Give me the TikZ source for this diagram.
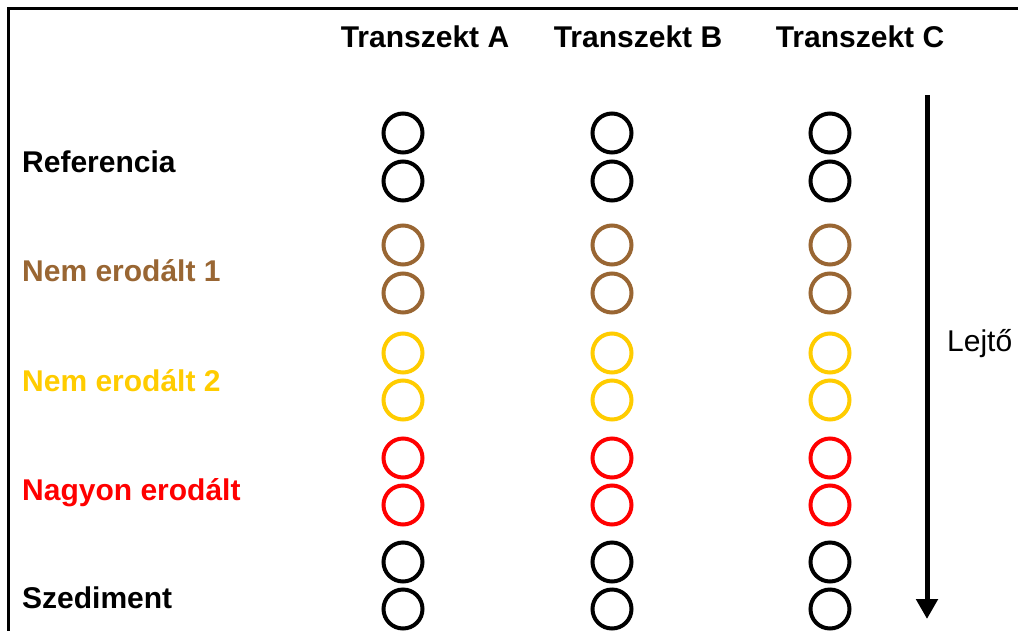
\documentclass[tikz,border=0pt]{standalone}
\usepackage{fontspec}
\setmainfont{Liberation Sans}
\usetikzlibrary{arrows.meta}
\definecolor{cbrown}{HTML}{996633}
\definecolor{cyellow}{HTML}{FFCC00}
\definecolor{cred}{HTML}{FF0000}
\begin{document}
\begin{tikzpicture}[x=1pt,y=-1pt,
  ring/.style={circle,draw,line width=4pt,minimum size=39pt,inner sep=0pt},
  lbl/.style={anchor=base west,inner sep=0pt,font=\fontsize{30}{36}\selectfont\bfseries},
  hdr/.style={anchor=base,inner sep=0pt,font=\fontsize{30}{36}\selectfont\bfseries}]
\useasboundingbox (0,0) rectangle (1018,630);
\clip (0,0) rectangle (1018,630);
\draw[line width=3pt] (8,640) -- (8,8.5) -- (1030,8.5);
\node[hdr] (hA) at (425,47) {Transzekt A};
\node[hdr] (hB) at (638,47) {Transzekt B};
\node[hdr] (hC) at (860,47) {Transzekt C};
\node[lbl] (l1) at (22,172) {Referencia};
\node[lbl,text=cbrown] (l2) at (22,281) {Nem erodált 1};
\node[lbl,text=cyellow] (l3) at (22,391) {Nem erodált 2};
\node[lbl,text=cred] (l4) at (22,500) {Nagyon erodált};
\node[lbl] (l5) at (22,608) {Szediment};
\foreach \c/\x in {A/403,B/612,C/830}{
  \foreach \r/\ya/\yb/\col in {1/133/181/black,2/245/293/cbrown,3/353/400/cyellow,4/458/505/cred,5/562/609/black}{
    \node[ring,draw=\col] (c\c\r a) at (\x,\ya) {};
    \node[ring,draw=\col] (c\c\r b) at (\x,\yb) {};
  }
}
\coordinate (aTop) at (927,95);
\coordinate (aBot) at (927,619);
\draw[line width=5pt,-{Triangle[width=21pt,length=20pt]}] (aTop) -- (aBot);
\node[anchor=base west,inner sep=0pt,font=\fontsize{30}{36}\selectfont] (lej) at (947,351) {Lejtő};
\end{tikzpicture}
\end{document}
